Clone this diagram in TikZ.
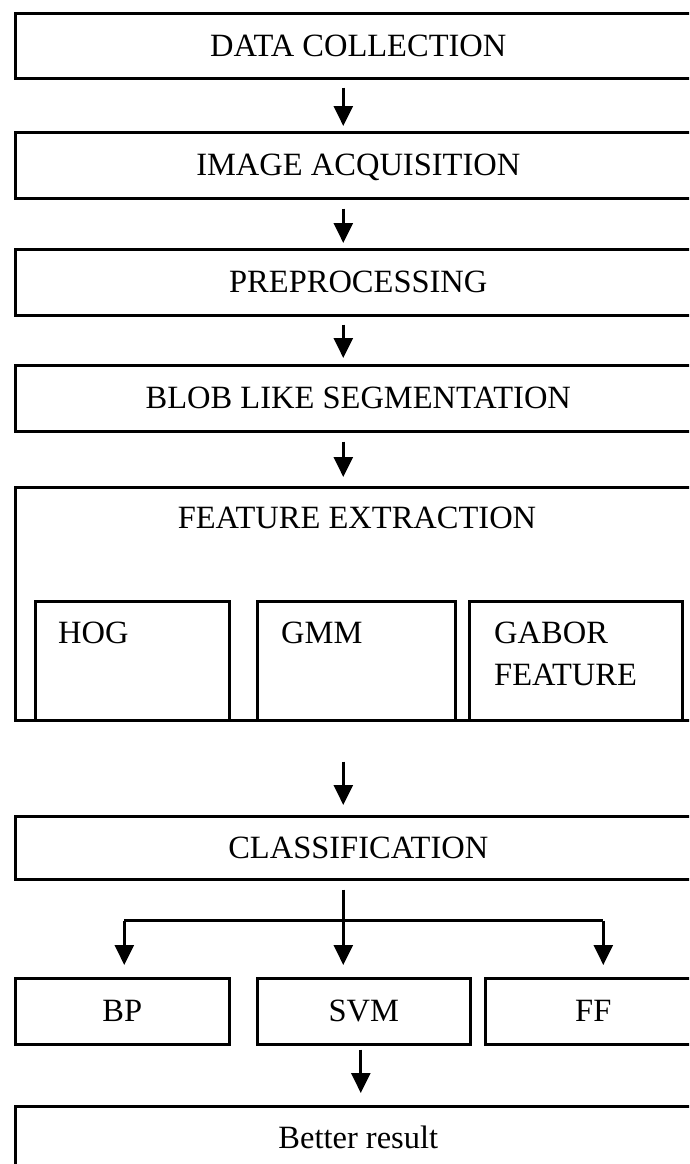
\documentclass[tikz,border=0pt]{standalone}
\usepackage{fontspec}
\setmainfont{Liberation Serif}
\usetikzlibrary{arrows.meta,calc}
\begin{document}
\begin{tikzpicture}[x=1pt,y=-1pt,
  box/.style={draw=black,line width=2.6pt,rectangle,inner sep=0pt,anchor=north west,
    font=\fontsize{32.5pt}{42pt}\selectfont,text height=21pt,text depth=0pt},
  lbl/.style={inner sep=0pt,font=\fontsize{32.5pt}{42pt}\selectfont,align=left},
  arr/.style={draw=black,line width=2.8pt,-{Triangle[width=19pt,length=20pt]}},
  ln/.style={draw=black,line width=2.8pt}]
\useasboundingbox (0,0) rectangle (689,1164);
\fill[white] (0,0) rectangle (689,1164);
\clip (0,0) rectangle (689,1164);
% main column
\node[box,minimum width=686pt,minimum height=65pt] (b1) at (14,12) {DATA COLLECTION};
\node[box,minimum width=686pt,minimum height=66pt] (b2) at (14,131) {IMAGE ACQUISITION};
\node[box,minimum width=686pt,minimum height=66pt] (b3) at (14,248) {PREPROCESSING};
\node[box,minimum width=686pt,minimum height=66pt] (b4) at (14,364) {BLOB LIKE SEGMENTATION};
% feature extraction
\node[box,minimum width=686pt,minimum height=233pt] (fe) at (14,486) {};
\node[lbl,anchor=base] (fet) at (357,528) {FEATURE EXTRACTION};
\node[box,minimum width=194pt,minimum height=119pt] (hog) at (34,600) {};
\node[box,minimum width=198pt,minimum height=119pt] (gmm) at (256,600) {};
\node[box,minimum width=213pt,minimum height=119pt] (gab) at (468,600) {};
\node[lbl,anchor=base west] (hogt) at (58,643) {HOG};
\node[lbl,anchor=base west] (gmmt) at (281,643) {GMM};
\node[lbl,anchor=base west] (gabt) at (494,685) {GABOR\\FEATURE};
% classification
\node[box,minimum width=686pt,minimum height=63pt] (cls) at (14,815) {CLASSIFICATION};
\node[box,minimum width=214pt,minimum height=66pt] (bp) at (14,977) {BP};
\node[box,minimum width=213pt,minimum height=66pt] (svm) at (256,977) {SVM};
\node[box,minimum width=216pt,minimum height=66pt] (ff) at (484,977) {FF};
\node[box,minimum width=686pt,minimum height=64pt] (res) at (14,1105) {Better result};
% arrows
\draw[arr,shorten <=8pt,shorten >=5pt] ([xshift=-15pt]b1.south) -- ([xshift=-15pt]b2.north);
\draw[arr,shorten <=9pt,shorten >=5pt] ([xshift=-15pt]b2.south) -- ([xshift=-15pt]b3.north);
\draw[arr,shorten <=8pt,shorten >=6pt] ([xshift=-15pt]b3.south) -- ([xshift=-15pt]b4.north);
\draw[arr,shorten <=9pt,shorten >=9pt] ([xshift=-15pt]b4.south) -- ([xshift=-15pt]fe.north);
\draw[arr,shorten <=40pt,shorten >=10pt] ([xshift=-15pt]fe.south) -- ([xshift=-15pt]cls.north);
\coordinate (split) at ($(cls.south)+(-15,40)$);
\draw[arr,shorten <=9pt,shorten >=12pt] ([xshift=-15pt]cls.south) -- (svm.north -| split);
\draw[ln] ([xshift=2pt]bp.north |- split) -- ([xshift=10pt]ff.north |- split);
\draw[arr,shorten >=12pt] ([xshift=2pt]bp.north |- split) -- ([xshift=2pt]bp.north);
\draw[arr,shorten >=12pt] ([xshift=10pt]ff.north |- split) -- ([xshift=10pt]ff.north);
\draw[arr,shorten <=4pt,shorten >=12pt] ([xshift=-3pt]svm.south) -- ([xshift=-3pt]svm.south |- res.north);
\end{tikzpicture}
\end{document}
